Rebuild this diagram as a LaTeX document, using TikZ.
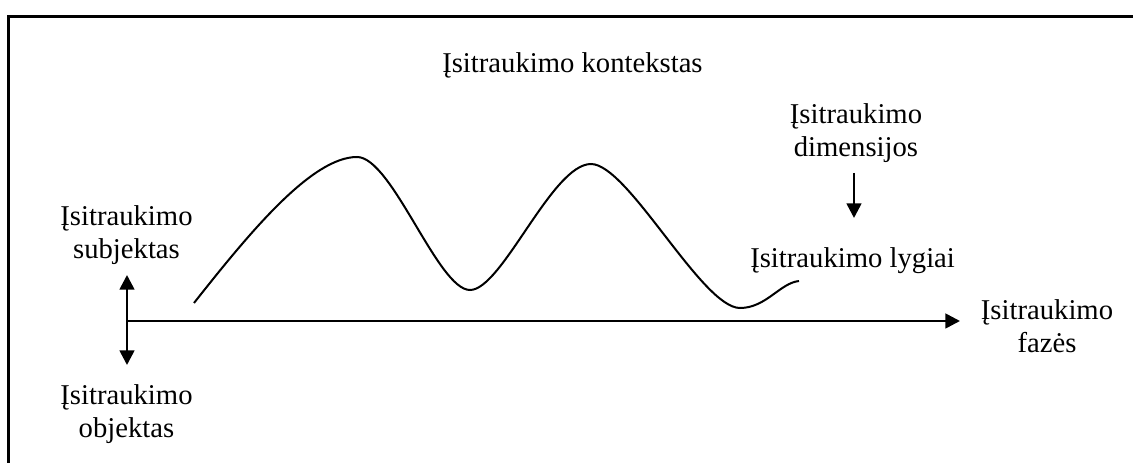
\documentclass[tikz,border=0pt]{standalone}
\usepackage{fontspec}
\setmainfont{Liberation Serif}
\usetikzlibrary{arrows.meta}
\begin{document}
\begin{tikzpicture}[x=0.75pt,y=-0.75pt,
  lbl/.style={inner sep=0pt, align=center, font=\fontsize{21.5}{24.75}\selectfont},
  frameline/.style={line width=2pt},
  tip/.style={Triangle[length=11pt,width=11pt]},
  axisline/.style={line width=2pt},
  curveline/.style={line width=1.5pt}]
\useasboundingbox (0,0) rectangle (1133,463);
% frame (cropped: top and left sides)
\draw[frameline] (1133,16.3) -- (8.7,16.3) -- (8.7,463);
% labels
\node[lbl, anchor=base west] (ctx) at (442,73) {Įsitraukimo kontekstas};
\node[lbl] (subj) at (126.5,235) {Įsitraukimo\\subjektas};
\node[lbl] (obj) at (126.5,414) {Įsitraukimo\\objektas};
\node[lbl] (faz) at (1047,326) {Įsitraukimo\\fazės};
\node[lbl] (dim) at (856,133) {Įsitraukimo\\dimensijos};
\node[lbl, anchor=base west] (lyg) at (750,268) {Įsitraukimo lygiai};
% axes
\coordinate (vtop) at (127,275);
\coordinate (vbot) at (127,365);
\coordinate (o) at (127,321);
\coordinate (hend) at (960,321);
\coordinate (dtop) at (854,173);
\coordinate (dbot) at (854,218);
\draw[axisline, {Triangle[length=11pt,width=11pt]}-{Triangle[length=11pt,width=11pt]}] (vtop) -- (vbot);
\draw[axisline, -{Triangle[length=11pt,width=11pt]}] (o) -- (hend);
\draw[axisline, -{Triangle[length=11pt,width=11pt]}] (dtop) -- (dbot);
% curve
\coordinate (c0) at (194,303);
\coordinate (c1) at (357,157);
\coordinate (c2) at (470,290);
\coordinate (c3) at (591,164);
\coordinate (c4) at (740,308);
\coordinate (c5) at (799,281);
\draw[curveline] (c0) .. controls (250,232) and (312,157) .. (c1)
  .. controls (392,157) and (438,290) .. (c2)
  .. controls (502,290) and (552,164) .. (c3)
  .. controls (628,164) and (702,308) .. (c4)
  .. controls (766,308) and (780,283) .. (c5);
\end{tikzpicture}
\end{document}
